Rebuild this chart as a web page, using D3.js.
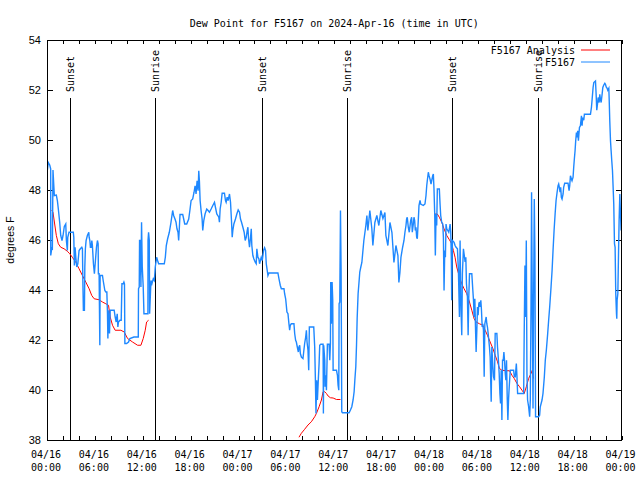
<!DOCTYPE html>
<html>
<head>
<meta charset="utf-8">
<script src="https://cdn.jsdelivr.net/npm/d3@7"></script>
<style>
body { margin: 0; background: #fff; }
text { font-family: "DejaVu Sans Mono", monospace; font-size: 10px; fill: #000; }
</style>
</head>
<body>
<script>
// time axis: hours after 2024-04-16 00:00 UTC
const startTime = "2024-04-16T00:00:00Z"
const endTime = "2024-04-19T00:00:00Z"
const yTicks = [38, 40, 42, 44, 46, 48, 50, 52, 54]

// F5167 observations
const obsHours = [
  0.04, 0.16, 0.34, 0.46, 0.47, 0.59, 0.67, 0.75, 0.84, 0.92, 1.17, 1.3, 1.42, 1.59, 1.72, 1.88, 2.01, 2.17, 2.35, 2.43,
  2.55, 2.6, 2.76, 3.3, 3.36, 3.43, 3.52, 3.61, 3.73, 3.86, 4.02, 4.18, 4.36, 4.44, 4.49, 4.56, 4.69, 4.74, 4.81, 4.9,
  5.06, 5.24, 5.28, 5.37, 5.44, 5.53, 5.62, 5.69, 5.82, 5.94, 6.2, 6.32, 6.41, 6.44, 6.53, 6.62, 6.66, 6.95, 7.04, 7.25,
  7.38, 7.5, 7.58, 7.63, 7.7, 7.83, 7.92, 8.42, 8.54, 8.67, 8.8, 8.88, 8.96, 9.14, 9.3, 9.39, 9.55, 9.64, 9.71, 9.76,
  9.97, 10.22, 10.39, 10.89, 11.44, 11.47, 11.56, 11.6, 11.69, 11.77, 11.85, 11.94, 12.06, 12.15, 12.65, 12.66, 12.73, 12.82, 12.86, 13.03,
  13.15, 13.32, 13.45, 13.53, 13.57, 13.74, 13.86, 13.99, 14.7, 14.83, 14.95, 15.12, 15.33,
  15.54, 15.75, 15.87, 16.04, 16.17, 16.29, 16.42, 16.5, 16.59, 16.67, 17.01, 17.13, 17.26, 17.51, 17.76, 17.93, 18.06, 18.26, 18.43, 18.56,
  18.68, 18.81, 18.94, 19.02, 19.1, 19.19, 19.31, 19.44, 19.52, 19.65, 19.81, 20.02, 20.19, 20.36, 20.57, 20.78, 20.99, 21.11, 21.28, 21.41,
  21.53, 21.61, 21.7, 21.83, 21.95, 22.24, 22.37, 22.45, 22.58, 22.7, 22.87, 23.0, 23.12, 23.21, 23.29, 23.42, 23.62, 23.79, 23.96, 24.13,
  24.25, 24.38, 24.55, 24.71, 24.84, 24.97, 25.09, 25.18, 25.26, 25.38, 25.51, 25.6, 25.67, 25.8, 25.92, 26.1, 26.22, 26.3, 26.43, 26.55,
  26.64, 26.85, 26.98, 27.14, 27.27, 27.39, 27.48,
  27.69, 27.81, 28.94, 29.07, 29.24, 29.37, 29.7, 29.78, 29.91, 29.99, 30.07, 30.2, 30.32, 30.41, 30.49, 30.62, 30.95, 31.04, 31.16, 31.25,
  31.37, 31.5, 31.58, 31.67, 31.75, 31.88, 32.08, 32.17, 32.29, 32.42, 32.51, 32.59, 32.71, 32.8, 32.88, 33.43, 33.55, 33.63, 33.71, 33.8,
  33.89, 34.01, 34.1, 34.18, 34.31, 34.6, 34.64, 34.68, 34.81, 34.85, 34.93, 35.02, 35.1, 35.14, 35.35, 35.44, 35.52, 35.56, 35.64, 35.73,
  35.81, 35.86, 36.28, 36.4, 36.48, 36.57, 36.61, 36.69, 36.78, 36.86, 36.94, 37.03, 37.86, 38.03, 38.2, 38.36, 38.49, 38.58, 38.7, 38.79,
  38.87, 38.99, 39.12, 39.2, 39.33,
  39.46, 39.71, 39.96, 40.09, 40.21, 40.34, 40.46, 40.71, 40.84, 41.09, 41.34, 41.59, 41.84, 42.1, 42.35, 42.47, 42.72, 42.98, 43.23, 43.48,
  43.73, 43.98, 44.1, 44.23,
  44.36, 44.57, 44.74, 44.86, 44.99, 45.07, 45.15, 45.28, 45.4, 45.58, 45.7, 45.78, 45.91, 45.99, 46.08, 46.16, 46.24, 46.33, 46.41, 46.54,
  46.62, 46.75, 46.83, 47.16, 47.37, 47.5, 47.59, 47.66, 47.79, 47.88, 48.0, 48.13, 48.21, 48.34, 48.42, 48.5, 48.59, 48.67, 48.76, 48.84,
  48.92, 49.17, 49.26, 49.34, 49.47, 49.6, 49.68, 49.76, 49.85, 49.93, 50.01, 50.1, 50.23, 50.35, 50.43, 50.52, 50.6, 50.68, 50.72, 50.81,
  51.02, 51.14, 51.27, 51.44, 51.56, 51.69, 51.77, 51.86, 51.98, 52.06, 52.19, 52.27, 52.4, 52.49, 52.57, 52.69, 52.78, 52.86, 52.95, 53.24,
  53.37, 53.45, 53.53, 53.62, 53.7, 53.78, 53.87, 53.95, 54.03, 54.12, 54.2, 54.29, 54.37, 54.45, 54.54, 54.62, 54.7, 54.79, 54.87, 55.04,
  55.12, 55.2, 55.29, 55.37, 55.45, 55.54, 55.67, 55.75, 55.88, 55.96, 56.08, 56.17, 56.38, 56.46, 56.55, 56.67, 56.76, 56.84, 56.92, 57.01,
  57.09, 57.18, 57.26, 57.34, 57.43, 57.51, 57.59, 57.68, 57.76, 57.85, 57.93, 58.06, 58.48, 58.57, 58.69, 58.82, 58.9, 58.98, 59.74, 59.81,
  59.9, 59.98, 60.07, 60.15, 60.23, 60.36, 60.49, 60.57, 60.66, 60.73, 60.82, 60.91, 60.98, 61.07, 61.15, 61.23, 61.61, 61.74, 61.82, 62.04,
  62.16, 62.33, 62.45, 62.58, 62.75, 62.87, 63.0, 63.17, 63.3, 63.42, 63.55, 63.68, 63.8, 63.93, 64.05, 64.13,
  64.21, 64.3, 64.38, 64.46, 64.55, 64.68, 64.75, 64.88, 65.3, 65.43, 65.51, 65.6, 65.72, 65.8, 65.93, 66.01, 66.09, 66.18, 66.26, 66.35,
  66.43, 66.51, 66.6, 66.73, 66.85, 66.98, 67.06, 67.14, 67.27, 67.35, 68.11, 68.23, 68.32, 68.44, 68.53, 68.74, 68.82, 68.9, 68.99, 69.07,
  69.2, 69.28, 69.36, 69.45, 69.57, 69.66, 69.78, 69.91, 69.99, 70.08, 70.2, 70.28, 70.41, 70.45, 70.53, 70.62, 70.7, 70.78, 70.87, 70.95,
  71.03, 71.12, 71.2, 71.28, 71.37, 71.41, 71.45, 71.54, 71.62, 71.7, 71.79, 71.87, 71.95
]
const obsTemps = [
  48.77, 49.1, 49.0, 48.85, 45.38, 45.65, 45.6, 48.8, 48.25, 47.78, 47.8, 47.58, 47.24, 46.71, 46.18, 45.98, 46.18, 46.54, 46.64, 45.98,
  45.58, 46.11, 46.31, 46.31, 46.11, 44.98, 45.71, 45.31, 44.92, 45.05, 45.58, 45.65, 45.71, 45.65, 44.45, 43.19, 43.19, 44.92, 45.65, 45.98,
  46.18, 46.31, 46.11, 45.98, 45.71, 45.71, 45.98, 45.78, 45.05, 44.65, 45.71, 45.98, 45.85, 44.65, 44.65, 41.79, 44.58, 44.58, 44.38, 43.98,
  43.92, 43.92, 43.05, 42.06, 43.19, 42.26, 43.19, 43.19, 42.92, 42.72, 43.05, 42.52, 42.72, 42.79, 42.79, 44.25, 44.25, 44.32, 44.25, 41.86,
  41.86, 41.92, 42.06, 42.12, 42.12, 44.05, 44.12, 45.98, 45.98, 44.12, 46.71, 44.92, 44.12, 43.05, 43.05, 45.98, 46.31, 45.98, 43.05, 44.38,
  44.25, 44.45, 44.38, 44.72, 44.92, 45.31, 45.18, 45.05, 45.05, 45.31, 45.78, 46.05, 46.31,
  46.71, 47.18, 46.98, 46.84, 46.71, 46.45, 46.31, 45.98, 46.51, 47.02, 47.02, 46.84, 46.64, 46.64, 46.84, 47.24, 47.58, 47.64, 47.91, 48.17,
  47.84, 48.37, 47.97, 48.77, 48.37, 47.58, 47.18, 46.84, 46.38, 46.78, 47.04, 47.24, 47.18, 47.11, 47.24, 47.38, 47.51, 47.31, 47.04, 46.98,
  46.91, 46.71, 47.24, 47.51, 47.87, 47.87, 47.58, 47.51, 47.71, 47.58, 47.84, 47.51, 46.78, 46.11, 46.38, 46.64, 46.84, 47.04, 47.2, 47.11,
  46.84, 46.71, 46.51, 46.31, 45.98, 46.11, 46.38, 46.51, 46.05, 45.71, 46.11, 46.45, 45.78, 45.38, 45.25, 45.11, 45.05, 45.65, 45.31, 45.25,
  45.05, 45.31, 45.18, 45.58, 45.69, 45.58, 45.05,
  44.58, 44.68, 44.68, 44.45, 44.18, 44.05, 44.05, 43.85, 43.65, 43.39, 43.12, 43.05, 42.65, 42.39, 42.59, 42.65, 42.65, 42.26, 41.99, 41.92,
  41.72, 41.52, 41.72, 41.79, 41.46, 41.32, 41.26, 41.52, 41.86, 42.12, 42.39, 41.92, 41.59, 40.79, 42.52, 42.52, 41.72, 40.53, 39.06, 40.39,
  39.6, 40.46, 41.06, 41.79, 41.83, 41.83, 39.06, 41.79, 41.19, 40.13, 40.59, 39.99, 41.19, 41.83, 41.83, 41.19, 41.86, 44.32, 42.65, 44.32,
  43.59, 40.79, 40.79, 40.59, 40.19, 39.99, 43.45, 43.52, 47.18, 44.78, 39.13, 39.09, 39.09, 39.2, 39.33, 39.6, 39.93, 40.39, 40.93, 41.79,
  42.85, 43.85, 44.38, 44.72, 44.92,
  45.1, 45.98, 46.58, 46.98, 46.38, 46.78, 47.18, 46.46, 45.78, 46.7, 46.98, 46.58, 47.18, 46.86, 47.1, 46.18, 45.78, 46.7, 46.3, 45.1,
  45.78, 45.38, 44.3, 44.7,
  45.31, 45.71, 45.98, 46.31, 46.58, 46.84, 46.91, 46.51, 46.31, 46.78, 46.91, 46.31, 46.64, 46.91, 46.78, 46.38, 46.51, 46.11, 46.05, 46.84,
  47.38, 47.58, 47.44, 47.38, 47.44, 47.78, 48.17, 48.37, 48.71, 48.57, 48.44, 48.24, 48.37, 48.57, 48.64, 48.04, 47.04, 45.38, 47.04, 46.58,
  48.04, 48.04, 47.44, 46.98, 46.71, 46.64, 46.11, 43.98, 45.58, 45.31, 46.64, 46.45, 46.38, 46.31, 46.45, 46.64, 46.31, 45.18, 43.59, 45.98,
  45.91, 45.78, 45.71, 45.65, 44.78, 42.92, 45.98, 43.59, 42.19, 44.65, 45.65, 45.45, 45.12, 45.31, 44.25, 43.72, 42.19, 43.72, 44.65, 44.65,
  43.98, 43.59, 42.92, 43.65, 42.52, 41.52, 42.39, 43.32, 42.99, 43.45, 43.52, 43.32, 43.59, 43.19, 42.52, 42.65, 42.39, 40.53, 42.65, 42.92,
  42.65, 42.52, 42.26, 41.99, 41.72, 41.32, 39.53, 41.72, 40.93, 40.53, 40.39, 42.26, 42.26, 41.72, 41.32, 40.66, 39.86, 39.46, 40.79, 38.8,
  41.19, 41.19, 41.52, 41.19, 40.66, 40.39, 41.19, 39.66, 38.8, 39.66, 40.13, 40.79, 40.79, 40.53, 40.53, 41.06, 40.53, 39.86, 39.86, 42.39,
  44.98, 42.92, 45.98, 40.66, 39.6, 39.33, 38.93, 39.6, 43.39, 47.91, 43.39, 39.26, 43.32, 47.64, 45.45, 38.93, 38.93, 38.99, 39.33, 39.6,
  39.86, 40.53, 41.19, 41.59, 42.26, 42.79, 43.32, 44.12, 44.78, 45.58, 46.38, 47.04, 47.58, 47.91, 48.17, 48.24,
  48.11, 47.91, 48.11, 47.71, 47.64, 47.84, 48.11, 48.27, 48.27, 47.97, 48.17, 48.57, 48.44, 48.37, 48.51, 48.91, 49.24, 49.57, 49.97, 50.3,
  50.1, 50.37, 49.97, 50.5, 50.57, 50.97, 50.57, 50.9, 50.79, 51.03, 51.03, 51.3, 51.63, 52.1, 52.3, 52.36, 51.83, 51.19, 51.43, 51.7,
  51.5, 51.83, 51.63, 51.5, 51.83, 52.1, 52.2, 52.27, 52.23, 52.12, 52.07, 51.99, 52.07, 51.7, 50.77, 49.97, 49.57, 49.17, 48.77, 48.11,
  47.44, 45.85, 45.71, 43.85, 43.05, 42.85, 43.59, 43.85, 45.31, 46.78, 47.84, 47.04, 46.38
]

// F5167 Analysis (null = no analysis)
const anaHours = [
  0.59, 0.75, 0.96, 1.17, 1.42, 1.72, 2.14, 2.55, 2.85, 3.18, 3.6, 4.02, 4.44, 4.86, 5.28, 5.61, 5.91, 6.53, 6.95, 7.37,
  7.71, 7.92, 8.21, 8.54, 9.26, 9.68, 10.1, 10.72, 11.35, 11.77, 12.06, 12.31, 12.48, 12.73,
  20,
  31.58, 31.88, 32.29, 32.71, 33.13, 33.55, 33.76, 34.1, 34.39, 34.6, 34.81, 35.02, 35.23, 35.52, 35.86, 36.28, 36.78,
  42,
  48.59, 48.92, 49.17, 49.47, 49.76, 50.1, 50.43, 50.72, 50.93, 51.14, 51.35, 51.69, 51.98, 52.27, 52.61, 52.95, 53.24, 53.53, 53.78, 54.2,
  54.62, 54.91, 55.2, 55.54, 55.88, 56.17, 56.46, 56.71, 57.01, 57.64, 57.97, 58.27, 58.56, 58.9, 59.23, 59.53, 59.81, 60.07, 60.36, 60.66,
  60.82, 60.98
]
const anaTemps = [
  47.2, 47.11, 46.64, 46.18, 45.85, 45.71, 45.65, 45.55, 45.45, 45.31, 45.11, 44.85, 44.58, 44.32, 44.05, 43.78, 43.65, 43.61, 43.52, 43.45,
  43.39, 42.92, 42.59, 42.39, 42.39, 42.32, 42.06, 41.92, 41.79, 41.79, 42.06, 42.39, 42.72, 42.79,
  null,
  38.11, 38.27, 38.43, 38.6, 38.73, 38.93, 39.06, 39.33, 39.6, 39.93, 39.93, 39.86, 39.76, 39.69, 39.68, 39.62, 39.62,
  null,
  47.04, 47.04, 46.91, 46.71, 46.45, 46.18, 46.01, 45.85, 45.58, 45.31, 44.92, 44.52, 44.25, 44.05, 43.85, 43.52, 43.19, 42.85, 42.72, 42.65,
  42.59, 42.39, 42.19, 41.92, 41.66, 41.39, 41.13, 40.86, 40.79, 40.77, 40.77, 40.59, 40.46, 40.26, 40.13, 39.99, 39.86, 40.13, 40.46, 40.66,
  40.79, 40.46
]

const sunLabels = ["Sunset", "Sunrise", "Sunset", "Sunrise", "Sunset", "Sunrise"]
const sunTimes = ["2024-04-16T02:53Z", "2024-04-16T13:34Z", "2024-04-17T02:54Z",
                  "2024-04-17T13:34Z", "2024-04-18T02:48Z", "2024-04-18T13:34Z"]

const seriesNames = ["F5167 Analysis", "F5167"]
const seriesColors = ["#ff0000", "#1e88ff"]

const width = 640, height = 480
const plotLeft = 47, plotRight = 621.5, plotTop = 40, plotBottom = 440

const t0 = new Date(startTime)
const hourToDate = h => new Date(t0.getTime() + h * 3600e3)

const x = d3.scaleUtc().domain([t0, new Date(endTime)]).range([plotLeft, plotRight])
const y = d3.scaleLinear().domain([38, 54]).range([plotBottom, plotTop])

const svg = d3.select("body").append("svg")
    .attr("width", width)
    .attr("height", height)

svg.append("text")
    .attr("x", (plotLeft + plotRight) / 2).attr("y", 27)
    .attr("text-anchor", "middle")
    .text("Dew Point for F5167 on 2024-Apr-16 (time in UTC)")

svg.append("defs").append("clipPath").attr("id", "plotclip")
  .append("rect").attr("x", plotLeft).attr("y", plotTop)
  .attr("width", plotRight - plotLeft).attr("height", plotBottom - plotTop)

// ticks, pointing into the plot like gnuplot
const tickG = svg.append("g").attr("shape-rendering", "crispEdges")
tickG.append("g").attr("transform", `translate(0,${plotBottom})`)
    .call(d3.axisBottom(x).ticks(d3.utcHour.every(2)).tickSize(-4).tickFormat(""))
tickG.append("g").attr("transform", `translate(0,${plotTop})`)
    .call(d3.axisTop(x).ticks(d3.utcHour.every(2)).tickSize(-4).tickFormat(""))
tickG.append("g").attr("transform", `translate(${plotLeft},0)`)
    .call(d3.axisLeft(y).tickValues(yTicks).tickSize(-6).tickPadding(6).tickFormat(d3.format("d")))
tickG.append("g").attr("transform", `translate(${plotRight},0)`)
    .call(d3.axisRight(y).tickValues(yTicks).tickSize(-6).tickFormat(""))
tickG.selectAll(".domain").remove()
tickG.selectAll("line").attr("stroke", "#000")
tickG.selectAll("text")
    .style("font-family", "'Liberation Sans', Arial, sans-serif")
    .style("font-size", "11px")

// two line time labels
const fmtDay = d3.utcFormat("%m/%d"), fmtHour = d3.utcFormat("%H:%M")
const xLabels = svg.append("g").selectAll("text")
    .data(x.ticks(d3.utcHour.every(6)))
    .join("text")
    .attr("text-anchor", "middle")
    .attr("transform", d => `translate(${x(d) - 1},0)`)
xLabels.append("tspan").attr("x", 0).attr("y", 458).text(fmtDay)
xLabels.append("tspan").attr("x", 0).attr("y", 470.5).text(fmtHour)

svg.append("text")
    .attr("transform", `translate(14,${(plotTop + plotBottom) / 2}) rotate(-90)`)
    .attr("text-anchor", "middle")
    .style("font-family", "'Liberation Sans', Arial, sans-serif")
    .style("font-size", "10.5px")
    .text("degrees F")

// sunrise / sunset markers
const sun = svg.append("g").selectAll("g")
    .data(sunTimes.map((t, i) => ({label: sunLabels[i], time: new Date(t)})))
    .join("g")
    .attr("transform", d => `translate(${Math.round(x(d.time)) + 0.5},0)`)
sun.append("line")
    .attr("y1", 98).attr("y2", plotBottom)
    .attr("stroke", "#000")
    .attr("shape-rendering", "crispEdges")
sun.append("text")
    .attr("transform", "translate(0,92) rotate(-90)")
    .attr("text-anchor", "start")
    .attr("dy", "0.35em")
    .text(d => d.label)

const plot = svg.append("g").attr("clip-path", "url(#plotclip)")

const line = d3.line()
    .defined(d => d[1] !== null)
    .x(d => x(hourToDate(d[0])))
    .y(d => y(d[1]))

plot.append("path")
    .attr("d", line(anaHours.map((h, i) => [h, anaTemps[i]])))
    .attr("fill", "none")
    .attr("stroke", seriesColors[0])
    .attr("stroke-width", 1)

plot.append("path")
    .attr("d", line(obsHours.map((h, i) => [h, obsTemps[i]])))
    .attr("fill", "none")
    .attr("stroke", seriesColors[1])
    .attr("stroke-width", 1.4)

// frame
svg.append("rect")
    .attr("x", plotLeft).attr("y", plotTop)
    .attr("width", plotRight - plotLeft).attr("height", plotBottom - plotTop)
    .attr("fill", "none").attr("stroke", "#000")
    .attr("shape-rendering", "crispEdges")

// legend
const legend = svg.append("g").selectAll("g")
    .data(seriesNames)
    .join("g")
    .attr("transform", (d, i) => `translate(0,${50 + i * 12})`)
legend.append("text")
    .attr("x", 575).attr("dy", "0.35em")
    .attr("text-anchor", "end")
    .text(d => d)
legend.append("line")
    .attr("x1", 581).attr("x2", 610)
    .attr("stroke", (d, i) => seriesColors[i])
    .attr("stroke-width", 1)
</script>
</body>
</html>
